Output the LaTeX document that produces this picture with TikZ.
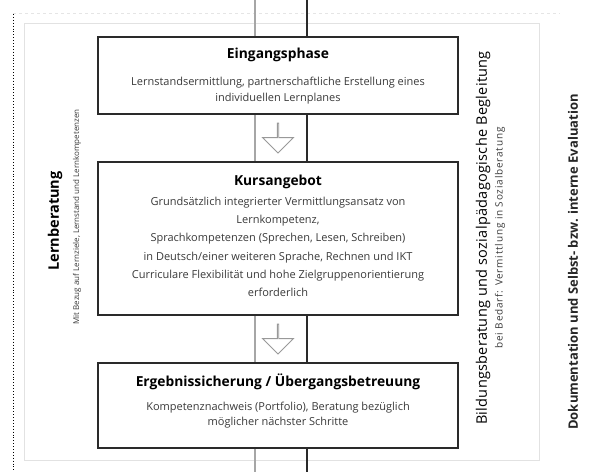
\documentclass[tikz,border=0pt]{standalone}
\usepackage{fontspec}
\setmainfont{Open Sans}
\usetikzlibrary{shapes.arrows,calc}
\definecolor{boxline}{HTML}{2A2A2A}
\definecolor{bodytext}{HTML}{3A3A3A}
\definecolor{frame}{HTML}{E2E2E2}
\tikzset{
  phasebox/.style={draw=boxline, line width=1.5pt, fill=white, minimum width=360pt, inner sep=0pt, anchor=north},
  titletext/.style={font=\fontsize{13.8}{16}\selectfont\bfseries, text=black, inner sep=0pt},
  bodytxt/.style={font=\fontsize{11}{16}\selectfont, text=bodytext, align=center, inner sep=0pt, anchor=north},
  flowarrow/.style={single arrow, draw=gray!80, fill=white, line width=0.9pt, minimum height=30pt, minimum width=31pt, single arrow head extend=9.5pt, inner sep=0pt, rotate=-90},
  sidelabel/.style={rotate=90, inner sep=0pt},
}
\begin{document}
\begin{tikzpicture}[x=1pt,y=-1pt]
\useasboundingbox (0,0) rectangle (606,472);
% frame
\draw[frame, line width=1pt] (24,23) rectangle (539,460);
\draw[gray!20, dashed, line width=0.6pt] (13,13) -- (560,13);
\draw[black, dotted, line width=0.9pt] (13,14) -- (13,472);
% channel lines
\coordinate (lt) at (255,0); \coordinate (lb) at (255,472);
\coordinate (rt) at (307,0); \coordinate (rb) at (307,472);
\draw[gray!70, line width=1.2pt] (lt) -- (lb);
\draw[boxline, line width=1.3pt] (rt) -- (rb);
% boxes
\node[phasebox, minimum height=77pt] (b1) at (278,36) {};
\node[phasebox, minimum height=153pt] (b2) at (278,161) {};
\node[phasebox, minimum height=85pt] (b3) at (278,362) {};
% box texts
\node[titletext] (t1) at (278,55) {Eingangsphase};
\node[bodytxt] (x1) at (278,77) {Lernstandsermittlung, partnerschaftliche Erstellung eines\\individuellen Lernplanes};
\node[titletext] (t2) at (278,182) {Kursangebot};
\node[bodytxt, font=\fontsize{11}{18.2}\selectfont] (x2) at (278,197) {Grundsätzlich integrierter Vermittlungsansatz von\\Lernkompetenz,\\Sprachkompetenzen (Sprechen, Lesen, Schreiben)\\in Deutsch/einer weiteren Sprache, Rechnen und IKT\\Curriculare Flexibilität und hohe Zielgruppenorientierung\\erforderlich};
\node[titletext] (t3) at (278,382) {Ergebnissicherung / Übergangsbetreuung};
\node[bodytxt, font=\fontsize{11}{15}\selectfont] (x3) at (278,402) {Kompetenznachweis (Portfolio), Beratung bezüglich\\möglicher nächster Schritte};
% arrows
\node[flowarrow] (a1) at ($(b1.south)!0.5!(b2.north)$) {};
\node[flowarrow] (a2) at ($(b2.south)!0.5!(b3.north)$) {};
% side labels
\node[sidelabel, font=\fontsize{14.5}{16}\selectfont\bfseries] (l1) at (55,221) {Lernberatung};
\node[sidelabel, font=\fontsize{8}{9}\selectfont, text=bodytext] (l2) at (77,217) {Mit Bezug auf Lernziele, Lernstand und Lernkompetenzen};
\node[sidelabel, font=\fontsize{14.5}{16}\selectfont\addfontfeature{LetterSpace=2}, text=black] (r1) at (483,238) {Bildungsberatung und sozialpädagogische Begleitung};
\node[sidelabel, font=\fontsize{10}{12}\selectfont\addfontfeature{LetterSpace=8}, text=bodytext] (r2) at (500,238) {bei Bedarf: Vermittlung in Sozialberatung};
\node[sidelabel, font=\fontsize{13}{15}\selectfont\bfseries, text=black!85] (r3) at (573,262) {Dokumentation und Selbst- bzw. interne Evaluation};
\end{tikzpicture}
\end{document}
